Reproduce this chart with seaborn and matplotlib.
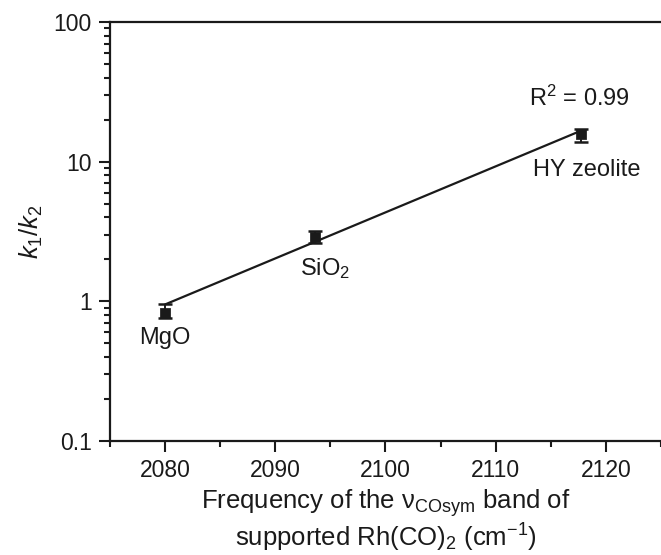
import numpy as np
import pandas as pd
import matplotlib
matplotlib.use("Agg")
import matplotlib.pyplot as plt
from matplotlib.ticker import MultipleLocator, LogLocator, FuncFormatter, NullFormatter
import seaborn as sns

# data
supports = ["MgO", "SiO$_2$", "HY zeolite"]
freq = [2080.0, 2093.6, 2117.7]
ratio = [0.83, 2.88, 15.7]
err_low = [0.07, 0.28, 1.9]
err_high = [0.12, 0.33, 1.5]

# fitted line (end points)
fit_x = [2080.0, 2117.7]
fit_y = [0.95, 16.6]

df = pd.DataFrame({"support": supports, "freq": freq, "ratio": ratio})
df_fit = pd.DataFrame({"freq": fit_x, "ratio": fit_y})

sns.set_style("ticks")
plt.rcParams["font.family"] = ["Liberation Sans", "DejaVu Sans"]
plt.rcParams["mathtext.fontset"] = "custom"
plt.rcParams["mathtext.rm"] = "Liberation Sans"
plt.rcParams["mathtext.it"] = "Liberation Sans:italic"
plt.rcParams["mathtext.default"] = "regular"

ink = "#1a1a1a"
fig = plt.figure(figsize=(6.61, 5.55), dpi=100)
ax = fig.add_axes([0.1664, 0.2054, 0.8336, 0.755])

sns.lineplot(data=df_fit, x="freq", y="ratio", color=ink, lw=1.6, ax=ax)
ax.errorbar(df["freq"], df["ratio"], yerr=[err_low, err_high], fmt="none",
            ecolor=ink, elinewidth=1.4, capsize=5, capthick=1.8, zorder=3)
sns.scatterplot(data=df, x="freq", y="ratio", marker="s", s=45, color=ink,
                edgecolor=ink, ax=ax, zorder=4)

ax.set_yscale("log")
ax.set_xlim(2075, 2125)
ax.set_ylim(0.1, 100)
ax.xaxis.set_major_locator(MultipleLocator(10))
ax.xaxis.set_minor_locator(MultipleLocator(5))
ax.yaxis.set_major_locator(LogLocator(base=10))
ax.yaxis.set_minor_locator(LogLocator(base=10, subs=np.arange(2, 10)))
ax.yaxis.set_major_formatter(FuncFormatter(lambda v, p: f"{v:g}"))
ax.yaxis.set_minor_formatter(NullFormatter())

for s in ["left", "top", "bottom"]:
    ax.spines[s].set_linewidth(1.6)
    ax.spines[s].set_color(ink)
ax.spines["right"].set_visible(False)
ax.tick_params(which="major", length=8, width=1.5, labelsize=16.5, colors=ink, pad=5)
ax.tick_params(which="minor", length=4.5, width=1.5, colors=ink)

ax.set_xlabel("Frequency of the $\\nu_{COsym}$ band of\nsupported Rh(CO)$_2$ (cm$^{-1}$)",
              fontsize=18.5, linespacing=1.1, color=ink, labelpad=4)
ax.set_ylabel("$\\mathit{k_1/k_2}$", fontsize=18.5, color=ink, labelpad=6)

ax.text(2080, 0.55, "MgO", ha="center", va="center", fontsize=17, color=ink)
ax.text(2094.5, 1.72, "SiO$_2$", ha="center", va="center", fontsize=17, color=ink)
ax.text(2118.3, 8.7, "HY zeolite", ha="center", va="center", fontsize=17, color=ink)
ax.text(2117.6, 28.5, "R$^2$ = 0.99", ha="center", va="center", fontsize=17, color=ink)

fig.savefig("out.png", dpi=100)
